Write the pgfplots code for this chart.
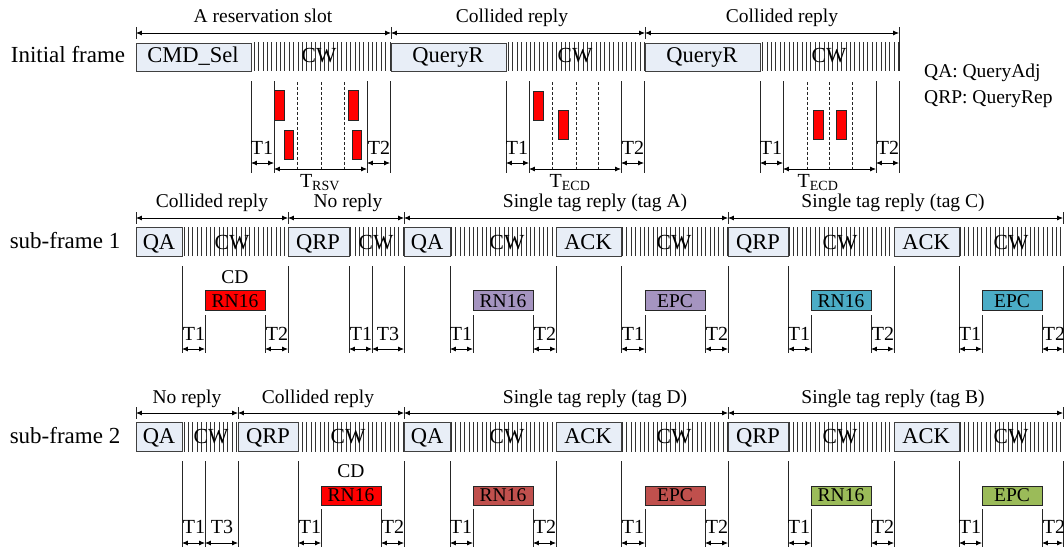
\documentclass[border=0pt]{standalone}
\usepackage{fontspec}
\setmainfont{Liberation Serif}
\usepackage{pgfplots}
\pgfplotsset{compat=1.18}
\usetikzlibrary{arrows.meta,patterns.meta}

\definecolor{boxfill}{HTML}{E8EEF7}
\definecolor{tagA}{HTML}{A594C0}
\definecolor{tagC}{HTML}{4BACC6}
\definecolor{tagD}{HTML}{C0504D}
\definecolor{tagB}{HTML}{9BBB59}

\newcommand{\fside}{\fontsize{23bp}{26bp}\selectfont}
\newcommand{\fbx}{\fontsize{22.5bp}{25bp}\selectfont}
\newcommand{\ftop}{\fontsize{19.5bp}{22bp}\selectfont}
\newcommand{\fcw}{\fontsize{21.5bp}{24bp}\selectfont}
\newcommand{\ft}{\fontsize{20bp}{23bp}\selectfont}
\newcommand{\fsm}{\fontsize{19.5bp}{22bp}\selectfont}

\pgfplotsset{
  ln/.style={black!85, line width=0.8pt},
  dsh/.style={black!85, line width=0.7pt, dash pattern=on 3pt off 2pt},
  dim/.style={black, line width=0.8pt, {Latex[length=6pt,width=5pt]}-{Latex[length=6pt,width=5pt]}},
  cmd/.style={draw=black!75, line width=0.9pt, fill=boxfill},
  cw/.style={draw=none, pattern={Lines[angle=90,distance=4.4pt,line width=1pt]}, pattern color=black!80},
  tag/.style={draw=black!85, line width=0.8pt, fill=#1},
}

% helpers: every shape goes through \addplot on the pixel axis
\newcommand{\vl}[3]{\addplot[ln] coordinates {(#1,#2) (#1,#3)};}
\newcommand{\dl}[3]{\addplot[dsh] coordinates {(#1,#2) (#1,#3)};}
\newcommand{\ar}[3]{\addplot[dim] coordinates {(#1,#3) (#2,#3)};}
\newcommand{\bx}[5]{\addplot[#5] coordinates {(#1,#3) (#2,#3) (#2,#4) (#1,#4)} -- cycle;}
\newcommand{\lab}[4]{\node[anchor=base, inner sep=0pt, font=#4] at (axis cs:#1,#2) {#3};}
\newcommand{\tl}[3]{\lab{#1}{#2}{#3}{\ft}}

\begin{document}
\begin{tikzpicture}
\begin{axis}[scale only axis, width=1064bp, height=552bp,
  xmin=0, xmax=1064, ymin=0, ymax=552, y dir=reverse,
  hide axis, clip=false]

%%%%%%%%%%%%%%%% Initial frame
\lab{68}{63}{Initial frame}{\fside}
\lab{263}{23}{A reservation slot}{\ftop}
\lab{512}{23}{Collided reply}{\ftop}
\lab{782}{23}{Collided reply}{\ftop}
\ar{136}{391}{33} \ar{391}{645}{33} \ar{645}{899}{33}
\vl{136}{27}{39} \vl{391}{27}{39} \vl{645}{27}{39} \vl{899}{27}{71}

\bx{251}{391}{43}{71}{cw} \bx{506}{645}{43}{71}{cw} \bx{760}{899}{43}{71}{cw}
\bx{136}{251}{43}{71}{cmd} \bx{391}{506}{43}{71}{cmd} \bx{645}{760}{43}{71}{cmd}
\lab{193}{63}{CMD\_Sel}{\fbx}
\lab{448}{63}{QueryR}{\fbx}
\lab{702}{63}{QueryR}{\fbx}
\lab{319}{63}{CW}{\fcw} \lab{575}{63}{CW}{\fcw} \lab{829}{63}{CW}{\fcw}

\node[anchor=base west, inner sep=0pt, font=\ftop] at (axis cs:924,78) {QA: QueryAdj};
\node[anchor=base west, inner sep=0pt, font=\ftop] at (axis cs:924,103) {QRP: QueryRep};

% slot 1
\vl{251}{81}{173} \vl{274}{81}{173} \vl{367}{81}{173} \vl{390}{81}{173}
\dl{297}{82}{169} \dl{321}{82}{169} \dl{344}{82}{169}
\bx{274}{284}{90}{120}{tag=red} \bx{284}{293}{130}{159}{tag=red}
\bx{348}{358}{90}{120}{tag=red} \bx{352}{361}{130}{159}{tag=red}
\ar{251}{274}{163} \ar{367}{390}{163} \ar{274}{367}{169}
\tl{262}{154}{T1} \tl{379}{154}{T2}
\lab{320}{187}{T\textsubscript{RSV}}{\ft}
% slot 2
\vl{506}{81}{173} \vl{529}{81}{173} \vl{621}{81}{173} \vl{644}{81}{173}
\dl{552}{82}{169} \dl{576}{82}{169} \dl{598}{82}{169}
\bx{533}{543}{91}{120}{tag=red} \bx{558}{568}{110}{139}{tag=red}
\ar{506}{529}{163} \ar{621}{644}{163} \ar{529}{621}{169}
\tl{517}{154}{T1} \tl{633}{154}{T2}
\lab{570}{187}{T\textsubscript{ECD}}{\ft}
% slot 3
\vl{760}{81}{173} \vl{783}{81}{173} \vl{876}{81}{173} \vl{899}{81}{173}
\dl{807}{82}{169} \dl{829}{82}{169} \dl{852}{82}{169}
\bx{813}{823}{110}{139}{tag=red} \bx{836}{846}{110}{139}{tag=red}
\ar{760}{783}{163} \ar{876}{899}{163} \ar{783}{876}{169}
\tl{771}{154}{T1} \tl{888}{154}{T2}
\lab{818}{187}{T\textsubscript{ECD}}{\ft}

%%%%%%%%%%%%%%%% sub-frame 1
\lab{65}{248}{sub-frame 1}{\fside}
\lab{212}{207}{Collided reply}{\ftop}
\lab{348}{207}{No reply}{\ftop}
\lab{595}{207}{Single tag reply (tag A)}{\ftop}
\lab{893}{207}{Single tag reply (tag C)}{\ftop}
\ar{136}{288}{218} \ar{288}{404}{218} \ar{404}{728}{218} \ar{728}{1063}{218}
\vl{136}{212}{224} \vl{288}{212}{224} \vl{404}{212}{224} \vl{728}{212}{224} \vl{1063}{212}{224}

\bx{182}{288}{227}{256}{cw} \bx{349}{404}{227}{256}{cw}
\bx{450}{556}{227}{256}{cw} \bx{621}{728}{227}{256}{cw}
\bx{788}{894}{227}{256}{cw} \bx{959}{1063}{227}{256}{cw}
\bx{136}{182}{227}{256}{cmd} \bx{288}{349}{227}{256}{cmd}
\bx{404}{450}{227}{256}{cmd} \bx{556}{621}{227}{256}{cmd}
\bx{728}{788}{227}{256}{cmd} \bx{894}{959}{227}{256}{cmd}
\lab{159}{249}{QA}{\fbx} \lab{318}{249}{QRP}{\fbx}
\lab{427}{249}{QA}{\fbx} \lab{588}{249}{ACK}{\fbx}
\lab{758}{249}{QRP}{\fbx} \lab{926}{249}{ACK}{\fbx}
\lab{232}{249}{CW}{\fcw} \lab{376}{249}{CW}{\fcw}
\lab{507}{249}{CW}{\fcw} \lab{674}{249}{CW}{\fcw}
\lab{840}{249}{CW}{\fcw} \lab{1011}{249}{CW}{\fcw}

% collided
\vl{182}{266}{353} \vl{288}{266}{353} \vl{205}{315}{353} \vl{265}{315}{353}
\bx{205}{265}{290}{310}{tag=red}
\lab{235}{307}{RN16}{\fsm} \lab{235}{283}{CD}{\fsm}
\ar{182}{205}{349} \ar{265}{288}{349}
\tl{194}{340}{T1} \tl{277}{340}{T2}
% no reply
\vl{349}{266}{353} \vl{372}{266}{353} \vl{404}{266}{353}
\ar{349}{372}{349} \ar{372}{404}{349}
\tl{361}{340}{T1} \tl{388}{340}{T3}
% tag A
\vl{450}{266}{353} \vl{556}{266}{353} \vl{621}{266}{353} \vl{728}{266}{353}
\vl{473}{315}{353} \vl{533}{315}{353} \vl{645}{315}{353} \vl{705}{315}{353}
\bx{473}{533}{290}{310}{tag=tagA} \lab{503}{307}{RN16}{\fsm}
\bx{645}{705}{290}{310}{tag=tagA} \lab{675}{307}{EPC}{\fsm}
\ar{450}{473}{349} \ar{533}{556}{349} \ar{621}{645}{349} \ar{705}{728}{349}
\tl{461}{340}{T1} \tl{545}{340}{T2} \tl{633}{340}{T1} \tl{717}{340}{T2}
% tag C
\vl{788}{266}{353} \vl{894}{266}{353} \vl{959}{266}{353} \vl{1063}{266}{353}
\vl{811}{315}{353} \vl{871}{315}{353} \vl{982}{315}{353} \vl{1042}{315}{353}
\bx{811}{871}{290}{310}{tag=tagC} \lab{841}{307}{RN16}{\fsm}
\bx{982}{1042}{290}{310}{tag=tagC} \lab{1012}{307}{EPC}{\fsm}
\ar{788}{811}{349} \ar{871}{894}{349} \ar{959}{982}{349} \ar{1042}{1063}{349}
\tl{799}{340}{T1} \tl{883}{340}{T2} \tl{970}{340}{T1} \tl{1054}{340}{T2}

%%%%%%%%%%%%%%%% sub-frame 2
\lab{65}{443}{sub-frame 2}{\fside}
\lab{187}{403}{No reply}{\ftop}
\lab{318}{403}{Collided reply}{\ftop}
\lab{595}{403}{Single tag reply (tag D)}{\ftop}
\lab{893}{403}{Single tag reply (tag B)}{\ftop}
\ar{136}{238}{413} \ar{238}{404}{413} \ar{404}{728}{413} \ar{728}{1063}{413}
\vl{136}{407}{419} \vl{238}{407}{419} \vl{404}{407}{419} \vl{728}{407}{419} \vl{1063}{407}{419}

\bx{182}{238}{422}{451}{cw} \bx{298}{404}{422}{451}{cw}
\bx{450}{556}{422}{451}{cw} \bx{621}{728}{422}{451}{cw}
\bx{788}{894}{422}{451}{cw} \bx{959}{1063}{422}{451}{cw}
\bx{136}{182}{422}{451}{cmd} \bx{238}{298}{422}{451}{cmd}
\bx{404}{450}{422}{451}{cmd} \bx{556}{621}{422}{451}{cmd}
\bx{728}{788}{422}{451}{cmd} \bx{894}{959}{422}{451}{cmd}
\lab{159}{443}{QA}{\fbx} \lab{268}{443}{QRP}{\fbx}
\lab{427}{443}{QA}{\fbx} \lab{588}{443}{ACK}{\fbx}
\lab{758}{443}{QRP}{\fbx} \lab{926}{443}{ACK}{\fbx}
\lab{211}{443}{CW}{\fcw} \lab{348}{443}{CW}{\fcw}
\lab{507}{443}{CW}{\fcw} \lab{674}{443}{CW}{\fcw}
\lab{840}{443}{CW}{\fcw} \lab{1011}{443}{CW}{\fcw}

% no reply
\vl{182}{461}{547} \vl{205}{461}{547} \vl{238}{461}{547}
\ar{182}{205}{543} \ar{205}{238}{543}
\tl{194}{533}{T1} \tl{222}{533}{T3}
% collided
\vl{298}{461}{547} \vl{404}{461}{547} \vl{321}{509}{547} \vl{381}{509}{547}
\bx{321}{381}{486}{505}{tag=red}
\lab{351}{501}{RN16}{\fsm} \lab{351}{477}{CD}{\fsm}
\ar{298}{321}{543} \ar{381}{404}{543}
\tl{310}{533}{T1} \tl{393}{533}{T2}
% tag D
\vl{450}{461}{547} \vl{556}{461}{547} \vl{621}{461}{547} \vl{728}{461}{547}
\vl{473}{509}{547} \vl{533}{509}{547} \vl{645}{509}{547} \vl{705}{509}{547}
\bx{473}{533}{486}{505}{tag=tagD} \lab{503}{501}{RN16}{\fsm}
\bx{645}{705}{486}{505}{tag=tagD} \lab{675}{501}{EPC}{\fsm}
\ar{450}{473}{543} \ar{533}{556}{543} \ar{621}{645}{543} \ar{705}{728}{543}
\tl{461}{533}{T1} \tl{545}{533}{T2} \tl{633}{533}{T1} \tl{717}{533}{T2}
% tag B
\vl{788}{461}{547} \vl{894}{461}{547} \vl{959}{461}{547} \vl{1063}{461}{547}
\vl{811}{509}{547} \vl{871}{509}{547} \vl{982}{509}{547} \vl{1042}{509}{547}
\bx{811}{871}{486}{505}{tag=tagB} \lab{841}{501}{RN16}{\fsm}
\bx{982}{1042}{486}{505}{tag=tagB} \lab{1012}{501}{EPC}{\fsm}
\ar{788}{811}{543} \ar{871}{894}{543} \ar{959}{982}{543} \ar{1042}{1063}{543}
\tl{799}{533}{T1} \tl{883}{533}{T2} \tl{970}{533}{T1} \tl{1054}{533}{T2}

\end{axis}
\pgfresetboundingbox
\path (current axis.south west) rectangle (current axis.north east);
\end{tikzpicture}
\end{document}
